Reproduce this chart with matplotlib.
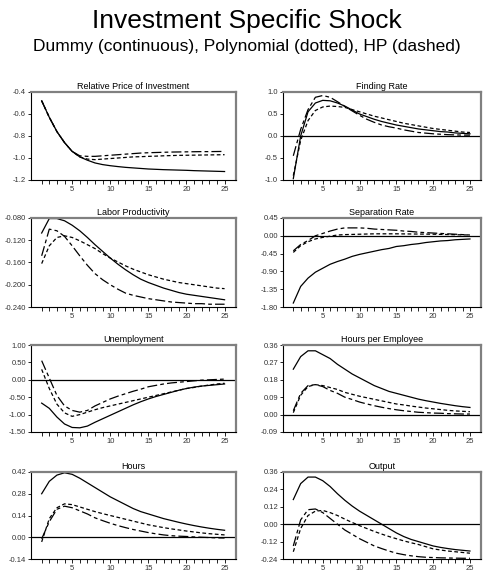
import numpy as np
import matplotlib
matplotlib.use("Agg")
import matplotlib.pyplot as plt
from matplotlib.ticker import MultipleLocator, FixedLocator, FormatStrFormatter

plt.rcParams['font.family'] = ['Liberation Sans', 'DejaVu Sans']

t = np.arange(1, 26)

# Relative Price of Investment
price_dummy = [-0.48, -0.63, -0.76, -0.86, -0.94, -0.99, -1.02, -1.045, -1.06, -1.07, -1.078, -1.085, -1.09,
               -1.095, -1.1, -1.103, -1.106, -1.108, -1.11, -1.112, -1.115, -1.117, -1.119, -1.121, -1.123]
price_poly = [-0.48, -0.63, -0.76, -0.86, -0.94, -0.99, -1.01, -1.015, -1.01, -1.005, -1.0, -0.995, -0.99,
              -0.988, -0.985, -0.983, -0.98, -0.978, -0.976, -0.975, -0.974, -0.973, -0.972, -0.971, -0.97]
price_hp = [-0.48, -0.63, -0.76, -0.86, -0.94, -0.98, -0.985, -0.985, -0.98, -0.975, -0.97, -0.965, -0.96,
            -0.955, -0.952, -0.95, -0.948, -0.946, -0.945, -0.944, -0.943, -0.942, -0.942, -0.941, -0.94]

# Finding Rate
find_dummy = [-0.97, 0.0, 0.55, 0.75, 0.81, 0.8, 0.75, 0.68, 0.59, 0.5, 0.44, 0.38, 0.33,
              0.29, 0.25, 0.22, 0.19, 0.16, 0.14, 0.12, 0.1, 0.09, 0.07, 0.06, 0.05]
find_poly = [-0.9, -0.1, 0.35, 0.58, 0.66, 0.68, 0.67, 0.65, 0.6, 0.55, 0.5, 0.45, 0.41,
             0.37, 0.33, 0.29, 0.26, 0.23, 0.2, 0.17, 0.15, 0.13, 0.11, 0.09, 0.08]
find_hp = [-0.45, 0.15, 0.6, 0.88, 0.92, 0.88, 0.78, 0.67, 0.57, 0.47, 0.38, 0.31, 0.25,
           0.21, 0.18, 0.14, 0.11, 0.08, 0.065, 0.05, 0.04, 0.03, 0.025, 0.02, 0.02]

# Labor Productivity
prod_dummy = [-0.107, -0.081, -0.081, -0.085, -0.093, -0.103, -0.115, -0.128, -0.14, -0.152, -0.163, -0.173, -0.182,
              -0.19, -0.196, -0.201, -0.206, -0.21, -0.214, -0.217, -0.219, -0.221, -0.223, -0.225, -0.227]
prod_poly = [-0.162, -0.13, -0.115, -0.112, -0.115, -0.121, -0.128, -0.135, -0.144, -0.152, -0.159, -0.166, -0.172,
             -0.177, -0.182, -0.186, -0.19, -0.193, -0.196, -0.198, -0.2, -0.202, -0.204, -0.206, -0.207]
prod_hp = [-0.148, -0.1, -0.103, -0.113, -0.13, -0.148, -0.165, -0.18, -0.191, -0.2, -0.208, -0.215, -0.219,
           -0.222, -0.225, -0.227, -0.229, -0.231, -0.232, -0.233, -0.234, -0.234, -0.235, -0.235, -0.235]

# Separation Rate
sep_dummy = [-1.7, -1.28, -1.07, -0.92, -0.82, -0.72, -0.65, -0.59, -0.52, -0.47, -0.43, -0.39, -0.35,
             -0.32, -0.27, -0.25, -0.22, -0.2, -0.17, -0.15, -0.13, -0.12, -0.1, -0.09, -0.08]
sep_poly = [-0.42, -0.25, -0.15, -0.08, -0.04, -0.01, 0.02, 0.03, 0.035, 0.04, 0.045, 0.05, 0.05,
            0.05, 0.05, 0.048, 0.046, 0.044, 0.042, 0.04, 0.036, 0.032, 0.028, 0.024, 0.02]
sep_hp = [-0.38, -0.22, -0.12, 0.0, 0.06, 0.12, 0.17, 0.2, 0.2, 0.2, 0.19, 0.17, 0.16,
          0.15, 0.14, 0.12, 0.11, 0.09, 0.08, 0.07, 0.06, 0.05, 0.04, 0.03, 0.02]

# Unemployment
unemp_dummy = [-0.67, -0.82, -1.07, -1.27, -1.37, -1.38, -1.33, -1.22, -1.12, -1.02, -0.92, -0.82, -0.72,
               -0.63, -0.55, -0.48, -0.42, -0.36, -0.3, -0.25, -0.21, -0.18, -0.16, -0.14, -0.12]
unemp_poly = [0.3, -0.25, -0.7, -0.95, -1.05, -1.0, -0.93, -0.86, -0.8, -0.75, -0.7, -0.65, -0.6,
              -0.55, -0.5, -0.45, -0.4, -0.35, -0.3, -0.25, -0.22, -0.18, -0.15, -0.12, -0.1]
unemp_hp = [0.55, 0.05, -0.45, -0.75, -0.88, -0.93, -0.88, -0.75, -0.65, -0.55, -0.47, -0.4, -0.33,
            -0.27, -0.2, -0.16, -0.12, -0.09, -0.07, -0.05, -0.03, -0.01, 0.0, 0.01, 0.02]

# Hours per Employee
hpe_dummy = [0.235, 0.3, 0.33, 0.33, 0.31, 0.29, 0.26, 0.235, 0.21, 0.19, 0.17, 0.15, 0.135,
             0.12, 0.11, 0.1, 0.09, 0.08, 0.072, 0.065, 0.058, 0.052, 0.046, 0.041, 0.037]
hpe_poly = [0.01, 0.1, 0.145, 0.155, 0.15, 0.14, 0.13, 0.115, 0.105, 0.095, 0.087, 0.079, 0.071,
            0.063, 0.055, 0.05, 0.044, 0.039, 0.034, 0.03, 0.026, 0.022, 0.019, 0.017, 0.015]
hpe_hp = [0.02, 0.11, 0.15, 0.155, 0.145, 0.125, 0.11, 0.09, 0.078, 0.065, 0.055, 0.046, 0.038,
          0.031, 0.025, 0.02, 0.016, 0.012, 0.01, 0.008, 0.007, 0.005, 0.004, 0.003, 0.003]

# Hours
hours_dummy = [0.28, 0.36, 0.4, 0.415, 0.405, 0.38, 0.35, 0.32, 0.29, 0.26, 0.235, 0.21, 0.185,
               0.165, 0.15, 0.135, 0.12, 0.108, 0.096, 0.085, 0.075, 0.066, 0.058, 0.051, 0.045]
hours_poly = [-0.03, 0.12, 0.19, 0.215, 0.21, 0.195, 0.18, 0.165, 0.152, 0.14, 0.128, 0.116, 0.104,
              0.092, 0.08, 0.071, 0.062, 0.054, 0.047, 0.04, 0.034, 0.028, 0.023, 0.019, 0.015]
hours_hp = [-0.01, 0.1, 0.18, 0.2, 0.19, 0.17, 0.15, 0.125, 0.107, 0.09, 0.075, 0.062, 0.05,
            0.04, 0.03, 0.022, 0.015, 0.01, 0.007, 0.005, 0.002, 0.0, -0.002, -0.004, -0.005]

# Output
out_dummy = [0.17, 0.28, 0.325, 0.325, 0.3, 0.26, 0.21, 0.165, 0.125, 0.09, 0.06, 0.03, 0.0,
             -0.03, -0.06, -0.085, -0.105, -0.12, -0.135, -0.15, -0.16, -0.168, -0.175, -0.18, -0.185]
out_poly = [-0.19, -0.03, 0.06, 0.09, 0.095, 0.08, 0.06, 0.035, 0.012, -0.01, -0.03, -0.05, -0.068,
            -0.085, -0.1, -0.115, -0.128, -0.14, -0.155, -0.17, -0.178, -0.185, -0.19, -0.195, -0.2]
out_hp = [-0.15, 0.03, 0.1, 0.105, 0.08, 0.04, 0.0, -0.04, -0.07, -0.1, -0.125, -0.15, -0.168,
          -0.185, -0.2, -0.21, -0.218, -0.224, -0.228, -0.23, -0.232, -0.233, -0.234, -0.235, -0.235]

panels = [
    ("Relative Price of Investment", price_dummy, price_poly, price_hp, (-1.2, -0.4), 0.2, '%.1f', False),
    ("Finding Rate", find_dummy, find_poly, find_hp, (-1.0, 1.0), 0.5, '%.1f', True),
    ("Labor Productivity", prod_dummy, prod_poly, prod_hp, (-0.24, -0.08), 0.04, '%.3f', False),
    ("Separation Rate", sep_dummy, sep_poly, sep_hp, (-1.8, 0.45), 0.45, '%.2f', True),
    ("Unemployment", unemp_dummy, unemp_poly, unemp_hp, (-1.5, 1.0), 0.5, '%.2f', True),
    ("Hours per Employee", hpe_dummy, hpe_poly, hpe_hp, (-0.09, 0.36), 0.09, '%.2f', True),
    ("Hours", hours_dummy, hours_poly, hours_hp, (-0.14, 0.42), 0.14, '%.2f', True),
    ("Output", out_dummy, out_poly, out_hp, (-0.24, 0.36), 0.12, '%.2f', True),
]

W, H = 494, 572
fig = plt.figure(figsize=(W / 100, H / 100), dpi=100)

fig.text(0.5, 1 - 21 / H, "Investment Specific Shock", ha='center', va='center', fontsize=19)
fig.text(0.5, 1 - 47 / H, "Dummy (continuous), Polynomial (dotted), HP (dashed)",
         ha='center', va='center', fontsize=12.5)

col_x = [(31, 236), (283, 481)]
row_y = [(92, 180), (218, 307), (345, 432), (472, 559)]

for i, (name, d, p, h, ylim, step, fmt, zero) in enumerate(panels):
    x0, x1 = col_x[i % 2]
    y0, y1 = row_y[i // 2]
    ax = fig.add_axes([x0 / W, 1 - y1 / H, (x1 - x0) / W, (y1 - y0) / H])
    if zero:
        ax.axhline(0, color='black', lw=0.9)
    ax.plot(t, d, color='black', lw=0.9)
    ax.plot(t, p, color='black', lw=0.9, dashes=(3, 2))
    ax.plot(t, h, color='black', lw=0.9, dashes=(8, 2.5, 3, 2.5))
    ax.set_xlim(-0.4, 26.5)
    ax.set_ylim(*ylim)
    ax.xaxis.set_major_locator(FixedLocator([5, 10, 15, 20, 25]))
    ax.xaxis.set_minor_locator(FixedLocator(list(range(1, 26))))
    ax.yaxis.set_major_locator(MultipleLocator(step))
    ax.yaxis.set_major_formatter(FormatStrFormatter(fmt))
    ax.tick_params(axis='x', which='both', direction='out', length=3, width=0.6,
                   labelsize=5.5, pad=1.5, labelcolor='#333333')
    ax.tick_params(axis='y', direction='out', length=2, width=0.6,
                   labelsize=5.5, pad=1.5, labelcolor='#333333')
    for s in ['left', 'bottom']:
        ax.spines[s].set_linewidth(0.8)
        ax.spines[s].set_color('black')
    for s in ['top', 'right']:
        ax.spines[s].set_linewidth(1.6)
        ax.spines[s].set_color('#808080')
    ax.set_title(name, fontsize=6.5, pad=2.5)

fig.savefig('out.png', dpi=100)
